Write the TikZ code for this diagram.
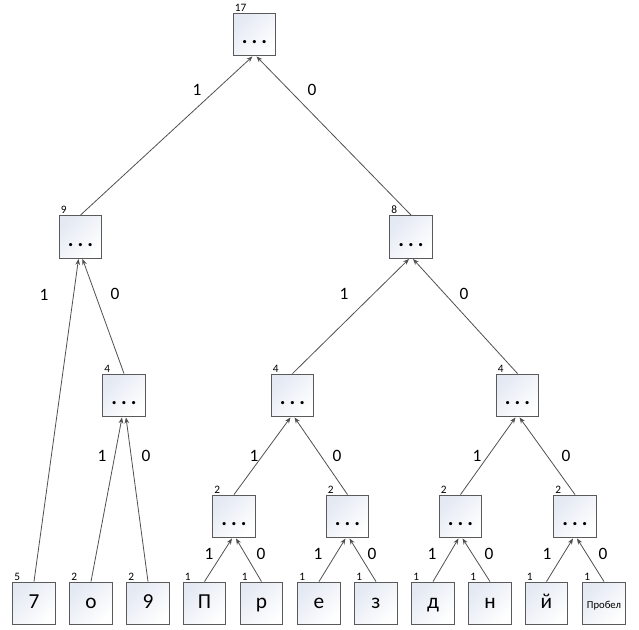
\documentclass[tikz,border=0pt]{standalone}
\usepackage{fontspec}
\setmainfont{Carlito}
\usetikzlibrary{arrows.meta}
\definecolor{edgegray}{HTML}{505050}
\definecolor{boxgray}{HTML}{5a5a5a}
\definecolor{boxblue}{HTML}{e4e9f3}
\newcommand{\treedots}{\raisebox{0pt}[14pt][0pt]{\textbf{.\kern3pt.\kern3pt.}}}

\begin{document}
\begin{tikzpicture}[
	x=0.75pt,
	y=-0.75pt,
	box/.style={
		draw=boxgray,
		line width=0.9pt,
		top color=boxblue,
		bottom color=white,
		shading angle=45,
		minimum width=32pt,
		minimum height=32pt,
		inner sep=0pt,
		align=center,
	},
	inner/.style={
		box,
		font=\fontsize{16}{18}\selectfont,
		text height=14pt,
		text depth=0pt,
	},
	leaf/.style={
		box,
		font=\fontsize{16}{18}\selectfont,
		text height=8pt,
		text depth=0pt,
	},
	freq/.style={
		font=\fontsize{8.5}{9}\selectfont,
		inner sep=0pt,
		anchor=south west,
		xshift=1.5pt,
		yshift=0.8pt,
	},
	bit/.style={
		font=\fontsize{13}{15}\selectfont,
		inner sep=0pt,
	},
	edge/.style={
		draw=edgegray,
		line width=0.6pt,
		-{Stealth[length=4.5pt,width=3.5pt]},
	},
]
\useasboundingbox (0,0) rectangle (639,629);

\node[inner, label={[freq]north west:17}] (n17) at (254.5,34.5) {\treedots};
\node[inner, label={[freq]north west:9}] (n9) at (80.5,237) {\treedots};
\node[inner, label={[freq]north west:8}] (n8) at (411,237) {\treedots};
\node[inner, label={[freq]north west:4}] (n4a) at (124,395.5) {\treedots};
\node[inner, label={[freq]north west:4}] (n4b) at (292.5,395.5) {\treedots};
\node[inner, label={[freq]north west:4}] (n4c) at (517.5,395.5) {\treedots};
\node[inner, label={[freq]north west:2}] (n2a) at (234,516.5) {\treedots};
\node[inner, label={[freq]north west:2}] (n2b) at (347.5,516.5) {\treedots};
\node[inner, label={[freq]north west:2}] (n2c) at (460.5,516.5) {\treedots};
\node[inner, label={[freq]north west:2}] (n2d) at (575,516.5) {\treedots};

\node[leaf, label={[freq]north west:5}] (c7) at (34,603.5) {7};
\node[leaf, label={[freq]north west:2}] (co) at (91,603.5) {о};
\node[leaf, label={[freq]north west:2}] (c9) at (148,603.5) {9};
\node[leaf, label={[freq]north west:1}] (cP) at (204.5,603.5) {П};
\node[leaf, label={[freq]north west:1}] (cr) at (261.5,603.5) {р};
\node[leaf, label={[freq]north west:1}] (ce) at (319,603.5) {е};
\node[leaf, label={[freq]north west:1}] (cz) at (376,603.5) {з};
\node[leaf, label={[freq]north west:1}] (cd) at (433,603.5) {д};
\node[leaf, label={[freq]north west:1}] (cn) at (490,603.5) {н};
\node[leaf, label={[freq]north west:1}] (cj) at (546.5,603.5) {й};
\node[leaf, label={[freq]north west:1}, font=\fontsize{8}{9}\selectfont] (csp) at (604,603.5) {Пробел};

\draw[edge] (n9.north) -- ([xshift=-1.5pt]n17.south);
\draw[edge] (n8.north) -- ([xshift=1.5pt]n17.south);
\draw[edge] (c7.north) -- ([xshift=-1.5pt]n9.south);
\draw[edge] (n4a.north) -- ([xshift=1.5pt]n9.south);
\draw[edge] (n4b.north) -- ([xshift=-1.5pt]n8.south);
\draw[edge] (n4c.north) -- ([xshift=1.5pt]n8.south);
\draw[edge] (co.north) -- ([xshift=-1.5pt]n4a.south);
\draw[edge] (c9.north) -- ([xshift=1.5pt]n4a.south);
\draw[edge] (n2a.north) -- ([xshift=-1.5pt]n4b.south);
\draw[edge] (n2b.north) -- ([xshift=1.5pt]n4b.south);
\draw[edge] (n2c.north) -- ([xshift=-1.5pt]n4c.south);
\draw[edge] (n2d.north) -- ([xshift=1.5pt]n4c.south);
\draw[edge] (cP.north) -- ([xshift=-1.5pt]n2a.south);
\draw[edge] (cr.north) -- ([xshift=1.5pt]n2a.south);
\draw[edge] (ce.north) -- ([xshift=-1.5pt]n2b.south);
\draw[edge] (cz.north) -- ([xshift=1.5pt]n2b.south);
\draw[edge] (cd.north) -- ([xshift=-1.5pt]n2c.south);
\draw[edge] (cn.north) -- ([xshift=1.5pt]n2c.south);
\draw[edge] (cj.north) -- ([xshift=-1.5pt]n2d.south);
\draw[edge] (csp.north) -- ([xshift=1.5pt]n2d.south);

\node[bit] (b17l) at (197,90) {1};
\node[bit] (b17r) at (312,90) {0};
\node[bit] (b9l) at (44,295) {1};
\node[bit] (b9r) at (115,294) {0};
\node[bit] (b8l) at (344,294) {1};
\node[bit] (b8r) at (464,294) {0};
\node[bit] (b4al) at (102,456) {1};
\node[bit] (b4ar) at (146,456) {0};
\node[bit] (b4bl) at (254,456) {1};
\node[bit] (b4br) at (337,456) {0};
\node[bit] (b4cl) at (477,456) {1};
\node[bit] (b4cr) at (566,456) {0};
\node[bit] (b2al) at (209,554) {1};
\node[bit] (b2ar) at (261,554) {0};
\node[bit] (b2bl) at (318,554) {1};
\node[bit] (b2br) at (372,554) {0};
\node[bit] (b2cl) at (432,554) {1};
\node[bit] (b2cr) at (489,554) {0};
\node[bit] (b2dl) at (547,554) {1};
\node[bit] (b2dr) at (603,554) {0};
\end{tikzpicture}
\end{document}
